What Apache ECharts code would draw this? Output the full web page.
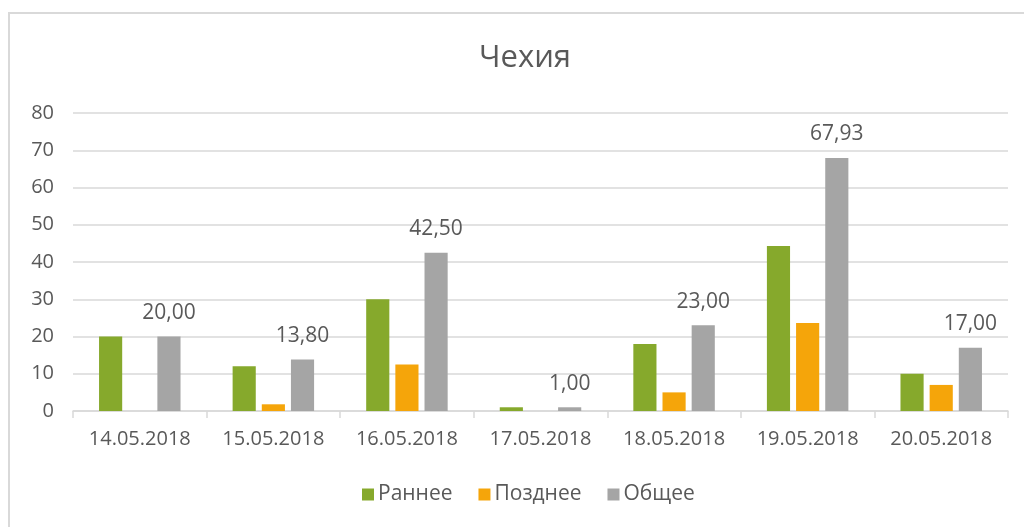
<!DOCTYPE html>
<html>
<head>
<meta charset="utf-8">
<script src="https://cdn.jsdelivr.net/npm/echarts@6/dist/echarts.min.js"></script>
<style>
  html, body { margin: 0; padding: 0; background: #fff; }
  #chart { width: 1024px; height: 527px; }
</style>
</head>
<body>
<div id="chart"></div>
<script>
// даты
var categories = ['14.05.2018', '15.05.2018', '16.05.2018', '17.05.2018', '18.05.2018', '19.05.2018', '20.05.2018'];
var early = [20, 12, 30, 1, 18, 44.3, 10];
var late = [0, 1.8, 12.5, 0, 5, 23.63, 7];
var total = [20, 13.8, 42.5, 1, 23, 67.93, 17];
var yTicks = [0, 10, 20, 30, 40, 50, 60, 70, 80];

var colors = ['#86a92c', '#f5a50a', '#a5a5a5'];
var textColor = '#595959';
var font = 'Open Sans';

var chartDom = document.getElementById('chart');
var myChart = echarts.init(chartDom);
var option = {
  animation: false,
  color: colors,
  textStyle: { fontFamily: font },
  graphic: [
    {
      type: 'rect',
      shape: { x: 9, y: 13, width: 1100, height: 600 },
      style: { fill: 'none', stroke: '#d9d9d9', lineWidth: 2 },
      silent: true
    }
  ],
  title: {
    text: 'Чехия',
    left: 474,
    top: 38,
    textStyle: {
      color: textColor,
      fontFamily: font,
      fontWeight: 'normal',
      fontSize: 31
    }
  },
  legend: {
    bottom: 17,
    left: 357,
    itemWidth: 12,
    itemHeight: 12,
    itemGap: 26,
    icon: 'rect',
    textStyle: { color: textColor, fontSize: 21, fontFamily: font, padding: [0, 0, 0, -1] },
    data: ['Раннее', 'Позднее', 'Общее']
  },
  grid: {
    left: 73,
    right: 16,
    top: 113,
    bottom: 116
  },
  xAxis: {
    type: 'category',
    data: categories,
    axisLine: { lineStyle: { color: '#d9d9d9', width: 1.5 } },
    axisTick: { show: true, length: 7, lineStyle: { color: '#d9d9d9', width: 1.5 } },
    axisLabel: { color: textColor, fontSize: 20, margin: 18, fontFamily: font }
  },
  yAxis: {
    type: 'value',
    min: yTicks[0],
    max: yTicks[yTicks.length - 1],
    interval: yTicks[1] - yTicks[0],
    axisLine: { show: false },
    axisTick: { show: false },
    axisLabel: { color: textColor, fontSize: 20, margin: 19, fontFamily: font },
    splitLine: { lineStyle: { color: '#d9d9d9', width: 1.5 } }
  },
  series: [
    {
      name: 'Раннее',
      type: 'bar',
      barGap: '26%',
      barCategoryGap: '39%',
      data: early
    },
    {
      name: 'Позднее',
      type: 'bar',
      barGap: '26%',
      barCategoryGap: '39%',
      data: late
    },
    {
      name: 'Общее',
      type: 'bar',
      barGap: '26%',
      barCategoryGap: '39%',
      data: total,
      label: {
        show: true,
        position: 'top',
        distance: 13,
        color: textColor,
        fontSize: 21,
        fontFamily: font,
        formatter: function (p) {
          return p.value.toFixed(2).replace('.', ',');
        }
      }
    }
  ]
};
myChart.setOption(option);
</script>
</body>
</html>
